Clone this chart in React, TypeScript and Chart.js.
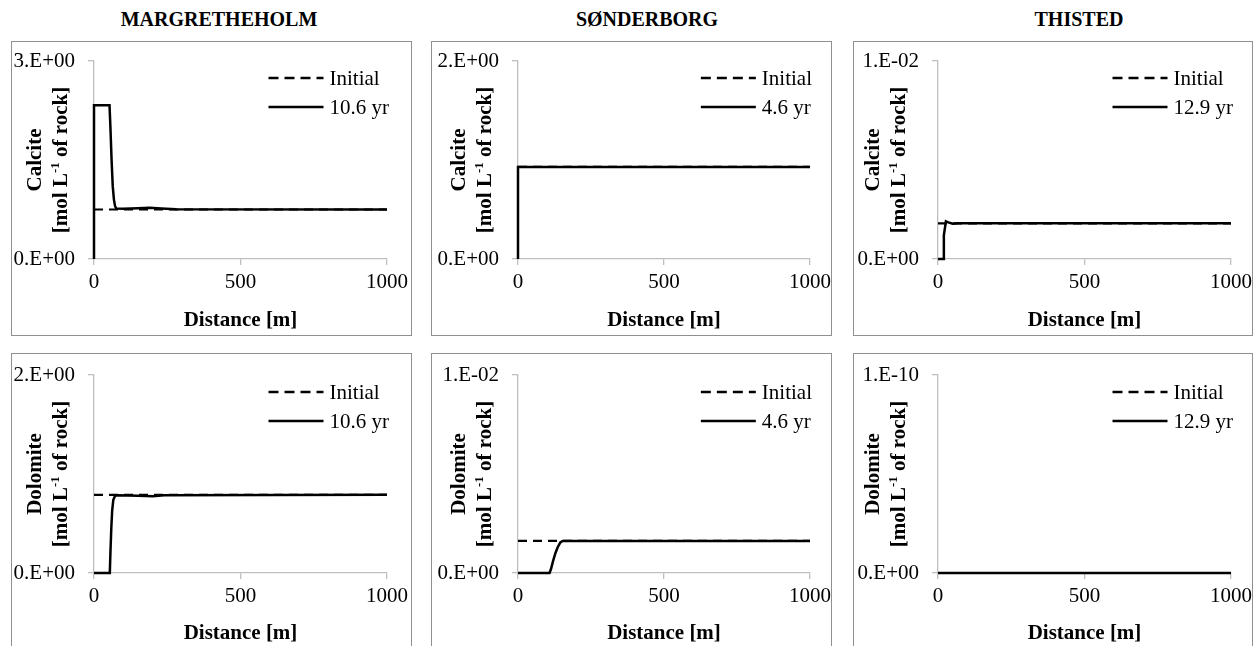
import React, { useEffect, useRef } from "react";
import { Chart, registerables } from "chart.js";

Chart.register(...registerables);

const FONT = "'Liberation Serif', serif";

// ---- labels ----
const sites = ["MARGRETHEHOLM", "SØNDERBORG", "THISTED"];
const runTimes = ["10.6 yr", "4.6 yr", "12.9 yr"];
const minerals = ["Calcite", "Dolomite"];
const initialLabel = "Initial";
const xTitle = "Distance [m]";
const xTickValues = [0, 500, 1000];

// ---- y-axis ranges & tick labels ----
const calciteMax = [3, 2, 0.01];
const dolomiteMax = [2, 0.01, 1e-10];
const calciteTopLabel = ["3.E+00", "2.E+00", "1.E-02"];
const dolomiteTopLabel = ["2.E+00", "1.E-02", "1.E-10"];
const zeroLabel = "0.E+00";

// ---- initial profiles ----
const initialX = [0, 1000];
const margCalciteInit = [0.75, 0.75];
const margDolomiteInit = [0.79, 0.79];
const sondCalciteInit = [0.93, 0.93];
const sondDolomiteInit = [0.00162, 0.00162];
const thisCalciteInit = [0.0018, 0.0018];
const thisDolomiteInit = [0, 0];

// ---- simulated profiles ----
const margCalciteX = [0, 0, 53, 56, 60, 64, 68, 72, 76, 100, 150, 190, 230, 280, 1000];
const margCalciteY = [0, 2.33, 2.33, 2.0, 1.5, 1.1, 0.9, 0.8, 0.765, 0.76, 0.77, 0.775, 0.765, 0.752, 0.75];

const margDolomiteX = [0, 54, 56, 59, 62, 66, 72, 80, 150, 200, 240, 1000];
const margDolomiteY = [0, 0, 0.2, 0.45, 0.63, 0.74, 0.78, 0.785, 0.78, 0.775, 0.785, 0.79];

const sondCalciteX = [0, 0, 1000];
const sondCalciteY = [0, 0.93, 0.93];

const sondDolomiteX = [0, 108, 113, 120, 128, 136, 145, 153, 1000];
const sondDolomiteY = [0, 0, 0.0002, 0.0006, 0.001, 0.0013, 0.00155, 0.00162, 0.00162];

const thisCalciteX = [0, 18, 20, 27, 35, 50, 70, 1000];
const thisCalciteY = [0, 0, 0.0012, 0.0019, 0.00185, 0.00178, 0.0018, 0.0018];

const thisDolomiteX = [0, 1000];
const thisDolomiteY = [0, 0];

// ---- layout (pixels) ----
const colBoxLeft = [11, 431, 853];
const colBoxWidth = [401, 401, 400];
const rowBoxTop = [41, 353];
const boxHeight = 295;
const colYAxisWidth = [83, 87, 85];
const colRightPad = [25, 22, 22];
const rowTopPad = [20, 22];
const rowXAxisHeight = [77, 75];
const rowTitlePad = [3, 2];
const colYTitleShift = [-58, -58, -64];
const colTitleCenter = [219, 647, 1079];

type PanelDef = {
  row: number;
  col: number;
  initY: number[];
  simX: number[];
  simY: number[];
  yMax: number;
  yTopLabel: string;
};

const panels: PanelDef[] = [
  { row: 0, col: 0, initY: margCalciteInit, simX: margCalciteX, simY: margCalciteY, yMax: calciteMax[0], yTopLabel: calciteTopLabel[0] },
  { row: 0, col: 1, initY: sondCalciteInit, simX: sondCalciteX, simY: sondCalciteY, yMax: calciteMax[1], yTopLabel: calciteTopLabel[1] },
  { row: 0, col: 2, initY: thisCalciteInit, simX: thisCalciteX, simY: thisCalciteY, yMax: calciteMax[2], yTopLabel: calciteTopLabel[2] },
  { row: 1, col: 0, initY: margDolomiteInit, simX: margDolomiteX, simY: margDolomiteY, yMax: dolomiteMax[0], yTopLabel: dolomiteTopLabel[0] },
  { row: 1, col: 1, initY: sondDolomiteInit, simX: sondDolomiteX, simY: sondDolomiteY, yMax: dolomiteMax[1], yTopLabel: dolomiteTopLabel[1] },
  { row: 1, col: 2, initY: thisDolomiteInit, simX: thisDolomiteX, simY: thisDolomiteY, yMax: dolomiteMax[2], yTopLabel: dolomiteTopLabel[2] },
];

const AXIS_GRAY = "#bfbfbf";

function makeChart(canvas: HTMLCanvasElement, p: PanelDef) {
  const { row, col } = p;
  const mineral = minerals[row];

  const decor = {
    id: "decor" + row + col,
    afterDraw(chart: any) {
      const ctx = chart.ctx as CanvasRenderingContext2D;
      const ca = chart.chartArea;
      // y title (two rotated lines, with superscript)
      const cy = (ca.top + ca.bottom) / 2;
      const x1 = ca.left + colYTitleShift[col];
      const x2 = x1 + 26;
      const big = `bold 21px ${FONT}`;
      const small = `bold 13px ${FONT}`;
      ctx.save();
      ctx.fillStyle = "#000";
      ctx.textBaseline = "middle";
      ctx.translate(x1, cy);
      ctx.rotate(-Math.PI / 2);
      ctx.font = big;
      ctx.textAlign = "center";
      ctx.fillText(mineral, 0, 0);
      ctx.restore();

      const segs: [string, string, number][] = [
        ["[mol L", big, 0],
        ["-1", small, -6],
        [" of rock]", big, 0],
      ];
      ctx.save();
      ctx.fillStyle = "#000";
      ctx.textBaseline = "middle";
      ctx.translate(x2, cy);
      ctx.rotate(-Math.PI / 2);
      ctx.textAlign = "left";
      let total = 0;
      const widths = segs.map(([t, f]) => {
        ctx.font = f;
        const w = ctx.measureText(t).width;
        total += w;
        return w;
      });
      let sx = -total / 2;
      segs.forEach(([t, f, dy], i) => {
        ctx.font = f;
        ctx.fillText(t, sx, dy);
        sx += widths[i];
      });
      ctx.restore();

      // legend inside chart area, top right
      ctx.save();
      ctx.font = `21px ${FONT}`;
      const ds = chart.data.datasets;
      const maxW = Math.max(...ds.map((d: any) => ctx.measureText(d.label).width));
      const textX = ca.right + 2 - maxW;
      ds.forEach((d: any, i: number) => {
        const y = ca.top + 17 + i * 29;
        ctx.beginPath();
        ctx.setLineDash(d.borderDash ? [10, 6] : []);
        ctx.strokeStyle = "#000";
        ctx.lineWidth = 2.5;
        ctx.moveTo(textX - 61, y);
        ctx.lineTo(textX - 6, y);
        ctx.stroke();
        ctx.setLineDash([]);
        ctx.fillStyle = "#000";
        ctx.textAlign = "left";
        ctx.textBaseline = "middle";
        ctx.fillText(d.label, textX, y + 1);
      });
      ctx.restore();
    },
  };

  return new Chart(canvas, {
    type: "line",
    data: {
      datasets: [
        {
          label: initialLabel,
          data: initialX.map((x, i) => ({ x, y: p.initY[i] })),
          borderColor: "#000",
          borderWidth: 2.2,
          borderDash: [9, 6],
          pointRadius: 0,
          fill: false,
          order: 1,
          clip: false as any,
        },
        {
          label: runTimes[col],
          data: p.simX.map((x, i) => ({ x, y: p.simY[i] })),
          borderColor: "#000",
          borderWidth: 2.5,
          pointRadius: 0,
          fill: false,
          order: 0,
          clip: false as any,
        },
      ],
    },
    options: {
      animation: false,
      responsive: false,
      events: [],
      font: { family: FONT, size: 21 },
      layout: {
        padding: { left: 0, top: rowTopPad[row], right: colRightPad[col], bottom: 0 },
      },
      plugins: {
        legend: { display: false },
        tooltip: { enabled: false },
      },
      scales: {
        x: {
          type: "linear",
          min: 0,
          max: 1000,
          afterBuildTicks: (s: any) => {
            s.ticks = xTickValues.map((v) => ({ value: v }));
          },
          afterFit: (s: any) => {
            s.height = rowXAxisHeight[row];
            s.paddingLeft = 0;
            s.paddingRight = 0;
          },
          grid: { drawOnChartArea: false, tickLength: 6, color: AXIS_GRAY, lineWidth: 1.3 },
          border: { color: AXIS_GRAY, width: 1.3 },
          ticks: {
            color: "#000",
            font: { family: FONT, size: 21 },
            padding: 5,
            maxRotation: 0,
            autoSkip: false,
            callback: (v: any) => String(v),
          },
          title: {
            display: true,
            text: xTitle,
            color: "#000",
            font: { family: FONT, size: 21, weight: "bold" },
            padding: { top: 0, bottom: rowTitlePad[row] },
          },
        },
        y: {
          type: "linear",
          min: 0,
          max: p.yMax,
          afterBuildTicks: (s: any) => {
            s.ticks = [{ value: 0 }, { value: p.yMax }];
          },
          afterFit: (s: any) => {
            s.width = colYAxisWidth[col];
            s.paddingTop = 0;
            s.paddingBottom = 0;
          },
          grid: { drawOnChartArea: false, tickLength: 6, color: AXIS_GRAY, lineWidth: 1.3 },
          border: { color: AXIS_GRAY, width: 1.3 },
          ticks: {
            color: "#000",
            font: { family: FONT, size: 21 },
            padding: 13,
            autoSkip: false,
            callback: (v: any) => (v === 0 ? zeroLabel : p.yTopLabel),
          },
          title: { display: false },
        },
      },
    } as any,
    plugins: [decor as any],
  });
}

export default function App() {
  const refs = useRef<(HTMLCanvasElement | null)[]>([]);

  useEffect(() => {
    let charts: Chart[] = [];
    let cancelled = false;
    const build = () => {
      if (cancelled) return;
      charts.forEach((c) => c.destroy());
      charts = panels.map((p, i) => makeChart(refs.current[i] as HTMLCanvasElement, p));
    };
    build();
    const raf = requestAnimationFrame(() => charts.forEach((c) => c.update()));
    const t1 = setTimeout(() => charts.forEach((c) => c.update()), 150);
    return () => {
      cancelled = true;
      cancelAnimationFrame(raf);
      clearTimeout(t1);
      charts.forEach((c) => c.destroy());
    };
  }, []);

  return (
    <div
      style={{
        position: "absolute",
        left: 0,
        top: 0,
        width: 1255,
        height: 646,
        overflow: "hidden",
        background: "#fff",
        fontFamily: FONT,
      }}
    >
      {sites.map((s, c) => (
        <div
          key={s}
          style={{
            position: "absolute",
            left: colTitleCenter[c],
            top: 19,
            transform: "translate(-50%, -50%)",
            fontWeight: "bold",
            fontSize: 20,
            whiteSpace: "nowrap",
            color: "#000",
            lineHeight: "24px",
          }}
        >
          {s}
        </div>
      ))}
      {panels.map((p, i) => (
        <React.Fragment key={i}>
          <div
            style={{
              position: "absolute",
              left: colBoxLeft[p.col],
              top: rowBoxTop[p.row],
              width: colBoxWidth[p.col],
              height: boxHeight,
              border: "1px solid #8f8f8f",
              boxSizing: "border-box",
            }}
          />
          <canvas
            ref={(el) => {
              refs.current[i] = el;
            }}
            width={colBoxWidth[p.col]}
            height={boxHeight}
            style={{
              position: "absolute",
              left: colBoxLeft[p.col],
              top: rowBoxTop[p.row],
              width: colBoxWidth[p.col],
              height: boxHeight,
            }}
          />
        </React.Fragment>
      ))}
    </div>
  );
}
